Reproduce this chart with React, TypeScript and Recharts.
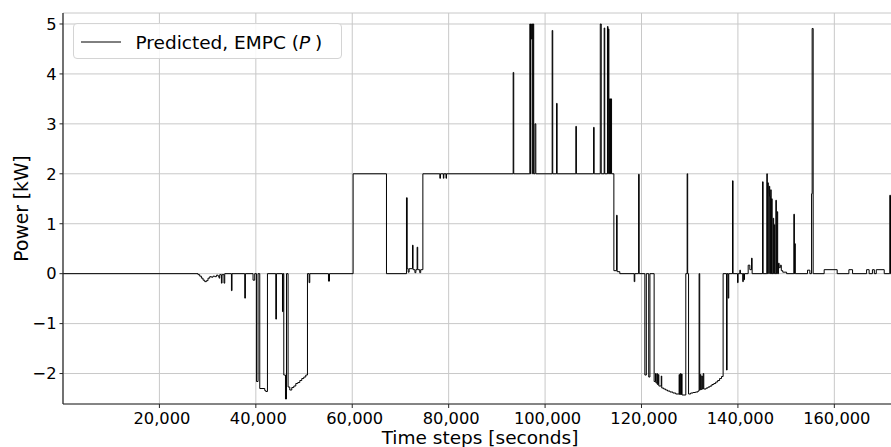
import React from 'react';
import { LineChart, Line, XAxis, YAxis, CartesianGrid, Legend } from 'recharts';

const FONT = '"DejaVu Sans", Verdana, sans-serif';

// Each entry is [time (s), power (kW)]; a value holds until the next time stamp.
const nightAndMorning: [number, number][] = [
  [0, 0], [28010, -0.02], [28360, -0.05], [28710, -0.09], [29050, -0.13], [29400, -0.16],
  [29750, -0.14], [30080, -0.09], [30440, -0.06], [30790, -0.07], [31120, -0.05], [31470, -0.06],
  [31830, -0.03], [32160, -0.05], [32370, -0.09], [32510, -0.02], [32860, -0.19], [32990, -0.02],
  [33400, -0.19], [33550, 0], [34940, -0.34], [35060, 0], [37700, -0.49], [37840, 0],
  [39420, -0.13], [39770, 0],
];

const morningDischarge: [number, number][] = [
  [40130, -2.16], [40460, 0], [40815, -2.3], [41850, -2.34], [42060, -2.36], [42410, 0],
  [44140, -0.91], [44280, 0], [45530, -0.76], [45650, 0], [45800, -2.03], [46150, -2.51],
  [46360, 0], [46690, -2.27], [47040, -2.33], [47460, -2.28], [47880, -2.25], [48290, -2.2],
  [48700, -2.18], [49120, -2.14], [49530, -2.1], [49950, -2.07], [50360, -2.03], [50710, 0],
  [51050, -0.18], [51190, 0], [55070, -0.15], [55280, 0],
];

const middayCharge: [number, number][] = [
  [60180, 2.0], [67100, 0], [71250, 1.52], [71400, 0.1], [71600, 0.03], [71800, 0.1],
  [72500, 0.57], [72620, 0.08], [73000, 0.02], [73200, 0.08], [73460, 0.53], [73580, 0.08],
  [74000, 0.02], [74200, 0.08], [74650, 2.0], [78170, 1.91], [78300, 2.0], [78900, 1.91],
  [79000, 2.0], [79450, 1.91], [79550, 2.0],
];

const afternoonPeaks: [number, number][] = [
  [93380, 4.03], [93500, 2.0], [96840, 5.0], [96960, 2.0], [97050, 5.0], [97150, 4.7],
  [97300, 5.0], [97420, 2.0], [97520, 5.0], [97640, 2.0], [97900, 3.0], [98080, 2.0],
  [101470, 4.87], [101590, 2.0], [102380, 3.41], [102500, 2.0], [106380, 2.95], [106500, 2.0],
  [110060, 2.93], [110180, 2.0], [111450, 5.0], [111650, 2.0], [112260, 4.92], [112380, 2.0],
  [112940, 4.95], [113060, 2.0], [113120, 4.9], [113240, 3.5], [113340, 2.0], [113440, 3.5],
  [113560, 2.0], [113640, 3.5], [113790, 2.0], [114270, 0.06], [114830, 1.17], [114950, 0.04],
  [115500, 0], [118490, -0.16], [118610, 0], [119400, 1.99], [119520, 0],
];

const eveningDischarge: [number, number][] = [
  [120700, -2.03], [121000, 0], [121500, -2.07], [121750, 0], [122620, -2.16], [122900, -2.0],
  [123000, -2.19], [123200, -2.0], [123300, -2.22], [123500, -2.02], [123600, -2.25],
  [124100, -2.05], [124200, -2.29], [124600, -2.31], [125000, -2.33], [125400, -2.35],
  [125900, -2.37], [126500, -2.39], [127100, -2.41], [127800, -2.02], [127900, -2.42],
  [128050, -2.0], [128150, -2.42], [128300, -2.01], [128420, -2.43], [129190, 0],
  [129470, 2.0], [129580, 0], [129760, -2.41], [130200, -2.39], [130700, -2.38],
  [131200, -2.37], [131700, -2.35], [131950, 0], [132080, -2.33], [132200, -2.02],
  [132320, -2.32], [132500, -2.05], [132620, -2.31], [132800, -2.0], [132920, -2.31],
  [133400, -2.29], [133800, -2.27], [134200, -2.25], [134600, -2.22], [135000, -2.2],
  [135400, -2.17], [135800, -2.14], [136200, -2.1], [136600, -2.06], [136930, 0],
  [137640, -1.93], [137760, 0], [137980, -0.49], [138100, 0],
];

const nightActivity: [number, number][] = [
  [138880, 1.86], [139000, 0], [139920, -0.18], [140040, 0], [140400, 0.07], [140520, 0],
  [141000, -0.16], [141120, 0], [141250, -0.12], [141370, 0], [142130, 0.17], [142470, 0.08],
  [142830, 0.31], [142950, 0], [145110, 1.84], [145230, 0], [146000, 2.0], [146100, 0],
  [146200, 1.82], [146300, 1.62], [146400, 0], [146500, 1.75], [146600, 1.55], [146700, 0],
  [146800, 1.68], [146900, 0], [147000, 1.5], [147100, 0], [147310, 1.11], [147420, 0],
  [147550, 0.98], [147650, 0], [147870, 1.47], [147980, 0], [148140, 1.24], [148250, 0],
  [148430, 0.21], [148550, 0.12], [148800, 0.17], [149000, 0.06], [149300, 0.03], [150100, 0],
  [151600, 1.19], [151720, 0], [151800, 0.6], [151900, 0], [154440, 0.07], [154920, 0],
  [155280, 1.6], [155400, 4.91], [155610, 0], [157890, 0.08], [160590, 0], [163020, 0.08],
  [163780, 0], [166690, 0.08], [167220, 0], [167900, 0.08], [168300, 0], [168700, 0.08],
  [170350, 0], [171500, 1.57], [171650, 0], [173000, 0],
];

const X_TICKS = [20000, 40000, 60000, 80000, 100000, 120000, 140000, 160000];
const Y_TICKS = [-2, -1, 0, 1, 2, 3, 4, 5];
const X_DOMAIN: [number, number] = [0, 173000];
const Y_DOMAIN: [number, number] = [-2.61, 5.22];

const rows = [
  ...nightAndMorning,
  ...morningDischarge,
  ...middayCharge,
  ...afternoonPeaks,
  ...eveningDischarge,
  ...nightActivity,
].map(([t, p]) => ({ t, p }));

const SPINE = '#262626';

const XTick = (props: any) => {
  const { x, y, payload } = props;
  return (
    <text x={x + 2.5} y={y} dy="0.71em" textAnchor="middle" fill="#000"
      fontSize={16.3} fontFamily={FONT}>
      {Number(payload.value).toLocaleString('en-US')}
    </text>
  );
};

const YTick = (props: any) => {
  const { x, y, payload } = props;
  const v = Number(payload.value);
  return (
    <text x={x} y={y} dy="0.355em" textAnchor="end" fill="#000"
      fontSize={16.3} fontFamily={FONT}>
      {v < 0 ? `\u2212${Math.abs(v)}` : `${v}`}
    </text>
  );
};

const XLabel = (props: any) => {
  const vb = props.viewBox || { x: 63, y: 404, width: 834 };
  return (
    <text x={vb.x + vb.width / 2} y={vb.y + 40.2} textAnchor="middle" fill="#000"
      fontSize={18.5} fontFamily={FONT}>
      Time steps [seconds]
    </text>
  );
};

const YLabel = (props: any) => {
  const vb = props.viewBox || { y: 13, height: 391 };
  const cx = 27.5;
  const cy = vb.y + vb.height / 2;
  return (
    <text x={cx} y={cy} transform={`rotate(-90, ${cx}, ${cy})`} textAnchor="middle"
      fill="#000" fontSize={18.7} fontFamily={FONT}>
      Power [kW]
    </text>
  );
};

const LegendBox = () => (
  <div
    style={{
      width: 269,
      height: 36,
      boxSizing: 'border-box',
      border: '1px solid #d4d4d4',
      borderRadius: 4,
      background: 'rgba(255,255,255,0.85)',
      position: 'relative',
    }}
  >
    <svg width={269} height={36} style={{ position: 'absolute', left: 0, top: 0 }}>
      <line x1={7} x2={47} y1={18} y2={18} stroke="#000" strokeWidth={1} />
      <text x={61.5} y={24.5} fill="#000" fontSize={18.5} fontFamily={FONT}>
        Predicted, EMPC (<tspan fontStyle="italic">P</tspan>
        <tspan dx={5}>)</tspan>
      </text>
    </svg>
  </div>
);

export default function App() {
  return (
    <div
      style={{
        position: 'absolute',
        left: 0,
        top: 0,
        width: 891,
        height: 447,
        overflow: 'hidden',
        background: '#fff',
      }}
    >
      <LineChart
        width={897}
        height={447}
        data={rows}
        margin={{ top: 13, right: 0, bottom: 0, left: 0 }}
      >
        <CartesianGrid stroke="#c8c8c8" strokeWidth={1} />
        <XAxis
          dataKey="t"
          type="number"
          domain={X_DOMAIN}
          ticks={X_TICKS}
          allowDataOverflow
          height={43}
          tickSize={4}
          tickMargin={4.3}
          tick={<XTick />}
          tickLine={{ stroke: SPINE }}
          axisLine={{ stroke: SPINE, strokeWidth: 1.2 }}
          label={<XLabel />}
        />
        <XAxis
          xAxisId="top"
          orientation="top"
          type="number"
          domain={X_DOMAIN}
          allowDataOverflow
          height={0}
          tick={false}
          tickLine={false}
          axisLine={{ stroke: SPINE, strokeWidth: 1.2 }}
        />
        <YAxis
          type="number"
          domain={Y_DOMAIN}
          ticks={Y_TICKS}
          allowDataOverflow
          width={63}
          tickSize={3.5}
          tickMargin={3}
          tick={<YTick />}
          tickLine={{ stroke: SPINE }}
          axisLine={{ stroke: SPINE, strokeWidth: 1.2 }}
          label={<YLabel />}
        />
        <Legend
          layout="vertical"
          align="center"
          verticalAlign="middle"
          wrapperStyle={{ position: 'absolute', left: 72.5, top: 22.5, width: 269, height: 36 }}
          content={() => <LegendBox />}
        />
        <Line
          type="stepAfter"
          dataKey="p"
          stroke="#000"
          strokeWidth={1}
          dot={false}
          activeDot={false}
          isAnimationActive={false}
        />
      </LineChart>
    </div>
  );
}
